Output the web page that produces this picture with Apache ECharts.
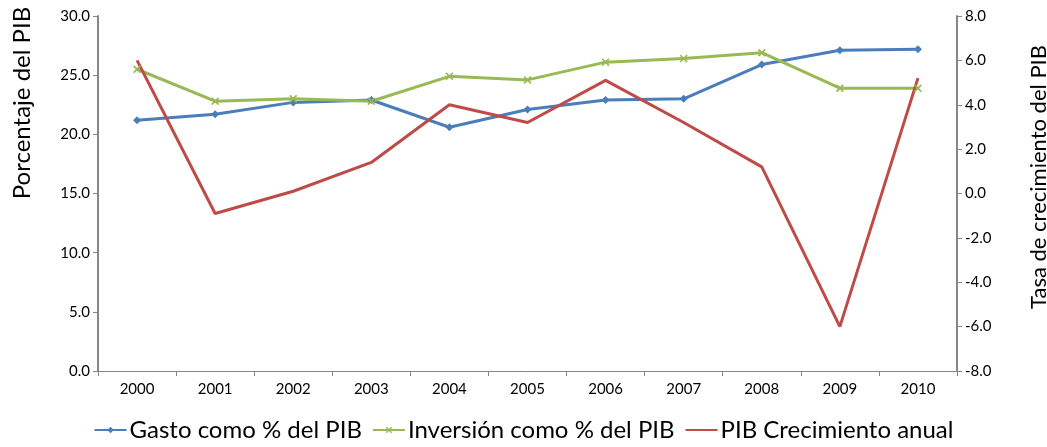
<!DOCTYPE html>
<html>
<head>
<meta charset="utf-8">
<script src="https://cdn.jsdelivr.net/npm/echarts@6/dist/echarts.min.js"></script>
<style>html,body{margin:0;padding:0;background:#fff}#c{width:1047px;height:447px}</style>
</head>
<body>
<div id="c"></div>
<script>
const years = ['2000','2001','2002','2003','2004','2005','2006','2007','2008','2009','2010'];
const gasto = [21.2, 21.7, 22.7, 22.9, 20.6, 22.1, 22.9, 23.0, 25.9, 27.1, 27.2];
const inversion = [25.5, 22.8, 23.0, 22.8, 24.9, 24.6, 26.1, 26.4, 26.9, 23.9, 23.9];
const crecimiento = [6.0, -0.9, 0.1, 1.4, 4.0, 3.2, 5.1, 3.2, 1.2, -6.0, 5.2];
const seriesNames = ['Gasto como % del PIB', 'Inversión como % del PIB', 'PIB Crecimiento anual'];
const leftAxisName = 'Porcentaje del PIB';
const rightAxisName = 'Tasa de crecimiento del PIB';

const FONT = 'Lato, "Open Sans", sans-serif';
const axisGray = '#868686';
const xSymbol = 'path://M0,1.5L1.5,0L5,3.5L8.5,0L10,1.5L6.5,5L10,8.5L8.5,10L5,6.5L1.5,10L0,8.5L3.5,5Z';

const chart = echarts.init(document.getElementById('c'));
chart.setOption({
  animation: false,
  backgroundColor: '#fff',
  grid: { left: 98, right: 90, top: 16, bottom: 76, containLabel: false },
  legend: {
    bottom: 0,
    left: 'center',
    itemWidth: 32,
    itemHeight: 8,
    itemGap: 10,
    textStyle: { fontFamily: FONT, fontSize: 24, color: '#000', padding: [0, 0, 0, -2] },
    data: [
      { name: seriesNames[0] },
      { name: seriesNames[1] },
      { name: seriesNames[2], itemStyle: { opacity: 0 } }
    ]
  },
  xAxis: {
    type: 'category',
    data: years,
    boundaryGap: true,
    axisLine: { lineStyle: { color: axisGray, width: 1 } },
    axisTick: { show: true, length: 5, interval: 0, lineStyle: { color: axisGray } },
    axisLabel: { fontFamily: FONT, fontSize: 15, color: '#000', margin: 11, interval: 0 },
    splitLine: { show: false }
  },
  yAxis: [
    {
      type: 'value', min: 0, max: 30, interval: 5, position: 'left',
      axisLine: { show: true, lineStyle: { color: axisGray, width: 2 } },
      axisTick: { show: true, length: 5, lineStyle: { color: axisGray } },
      axisLabel: { fontFamily: FONT, fontSize: 15, color: '#000', margin: 8,
        formatter: v => v.toFixed(1) },
      splitLine: { show: false }
    },
    {
      type: 'value', min: -8, max: 8, interval: 2, position: 'right',
      axisLine: { show: true, lineStyle: { color: axisGray, width: 2 } },
      axisTick: { show: true, length: 5, lineStyle: { color: axisGray } },
      axisLabel: { fontFamily: FONT, fontSize: 15, color: '#000', margin: 8,
        formatter: v => v.toFixed(1) },
      splitLine: { show: false }
    }
  ],
  graphic: [
    { type: 'text', rotation: Math.PI / 2, x: 22, y: 103,
      style: { text: leftAxisName, fontFamily: FONT, fontSize: 24, fill: '#000',
        align: 'center', verticalAlign: 'middle' } },
    { type: 'text', rotation: Math.PI / 2, x: 1039, y: 177,
      style: { text: rightAxisName, fontFamily: FONT, fontSize: 22, fill: '#000',
        align: 'center', verticalAlign: 'middle' } }
  ],
  series: [
    {
      name: seriesNames[0], type: 'line', yAxisIndex: 0, data: gasto,
      symbol: 'diamond', symbolSize: 8, showSymbol: true,
      lineStyle: { color: '#4a7ebb', width: 3 },
      itemStyle: { color: '#4a7ebb' }
    },
    {
      name: seriesNames[1], type: 'line', yAxisIndex: 0, data: inversion,
      symbol: xSymbol, symbolSize: 8, showSymbol: true,
      lineStyle: { color: '#98b954', width: 3 },
      itemStyle: { color: '#98b954' }
    },
    {
      name: seriesNames[2], type: 'line', yAxisIndex: 1, data: crecimiento,
      symbol: 'none', showSymbol: false,
      lineStyle: { color: '#be4b48', width: 3 },
      itemStyle: { color: '#be4b48' }
    }
  ]
});
</script>
</body>
</html>
